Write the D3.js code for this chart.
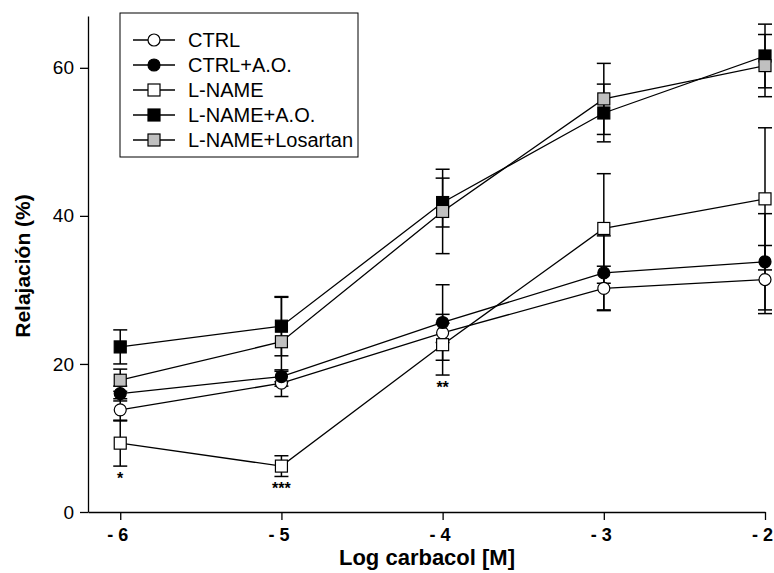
<!DOCTYPE html>
<html>
<head>
<meta charset="utf-8">
<script src="https://cdn.jsdelivr.net/npm/d3@7"></script>
<style>
  body { margin: 0; background: #fff; }
  svg { font-family: "Liberation Sans", Arial, sans-serif; }
</style>
</head>
<body>
<svg id="chart" width="774" height="573"></svg>
<script>
// log concentrations of carbachol
const doses = [-6, -5, -4, -3, -2]
const xTicks = [-6, -5, -4, -3, -2]
const yTicks = [0, 20, 40, 60]

const seriesNames = ['CTRL', 'CTRL+A.O.', 'L-NAME', 'L-NAME+A.O.', 'L-NAME+Losartan']

// mean relaxation (%) and error per series
const ctrl      = [13.8, 17.4, 24.2, 30.2, 31.4]
const ctrlErr   = [1.5, 1.8, 1.3, 3.0, 4.6]
const ctrlAO    = [16.0, 18.3, 25.6, 32.3, 33.8]
const ctrlAOErr = [1.0, 0.7, 5.1, 5.0, 6.5]
const lname     = [9.3, 6.2, 22.6, 38.3, 42.3]
const lnameErr  = [3.1, 1.4, 4.1, 7.4, 9.6]
const lnameAO   = [22.3, 25.1, 41.8, 53.9, 61.6]
const lnameAOErr = [2.3, 4.0, 3.3, 3.9, 4.3]
const lnameLos  = [17.8, 23.0, 40.6, 55.8, 60.3]
const lnameLosErr = [1.5, 6.0, 5.7, 4.8, 4.2]

// significance marks under L-NAME
const sigMarks = ['*', '***', '**', '', '']

const svg = d3.select('#chart')

const x = d3.scaleLinear().domain([-6.2, -2]).range([88, 765])
const y = d3.scaleLinear().domain([0, 67]).range([512, 16])

const series = [
	{name: seriesNames[0], vals: ctrl, err: ctrlErr, shape: 'circle', fill: '#fff'},
	{name: seriesNames[1], vals: ctrlAO, err: ctrlAOErr, shape: 'circle', fill: '#000'},
	{name: seriesNames[2], vals: lname, err: lnameErr, shape: 'square', fill: '#fff'},
	{name: seriesNames[3], vals: lnameAO, err: lnameAOErr, shape: 'square', fill: '#000'},
	{name: seriesNames[4], vals: lnameLos, err: lnameLosErr, shape: 'square', fill: '#c0c0c0'}
]

// axes
const yAxis = svg.append('g')
	.attr('transform', 'translate(88,0)')
	.call(d3.axisLeft(y).tickValues(yTicks).tickSize(8).tickSizeOuter(0).tickPadding(6))
yAxis.selectAll('text').style('font-size', '19px').attr('fill', '#000')
yAxis.selectAll('line, path').attr('stroke', '#000').attr('stroke-width', 1.3)

const xAxis = svg.append('g')
	.attr('transform', 'translate(0,512)')
	.call(d3.axisBottom(x).tickValues(xTicks).tickSize(8).tickSizeOuter(0).tickPadding(8)
		.tickFormat(d => '- ' + Math.abs(d)))
xAxis.selectAll('text').style('font-size', '18px').style('font-weight', 'bold')
	.attr('fill', '#000').attr('dx', -3)
xAxis.selectAll('line, path').attr('stroke', '#000').attr('stroke-width', 1.3)

svg.append('text')
	.attr('transform', 'translate(30,266) rotate(-90)')
	.attr('text-anchor', 'middle')
	.style('font-size', '21px').style('font-weight', 'bold')
	.text('Relajación (%)')

svg.append('text')
	.attr('x', 427).attr('y', 565)
	.attr('text-anchor', 'middle')
	.style('font-size', '22px').style('font-weight', 'bold')
	.text('Log carbacol [M]')

const line = d3.line()
	.x((d, i) => x(doses[i]))
	.y(d => y(d))

const capW = 7

series.forEach(s => {
	const g = svg.append('g')
	// error bars
	s.vals.forEach((v, i) => {
		const cx = x(doses[i])
		const top = y(v + s.err[i]), bot = y(v - s.err[i])
		g.append('line').attr('x1', cx).attr('x2', cx).attr('y1', top).attr('y2', bot)
			.attr('stroke', '#000').attr('stroke-width', 1.5)
		g.append('line').attr('x1', cx - capW).attr('x2', cx + capW).attr('y1', top).attr('y2', top)
			.attr('stroke', '#000').attr('stroke-width', 1.5)
		g.append('line').attr('x1', cx - capW).attr('x2', cx + capW).attr('y1', bot).attr('y2', bot)
			.attr('stroke', '#000').attr('stroke-width', 1.5)
	})
	g.append('path').datum(s.vals)
		.attr('fill', 'none').attr('stroke', '#000').attr('stroke-width', 1.3)
		.attr('d', line)
})

// markers on top
function drawMarker(g, shape, fill, cx, cy) {
	if (shape === 'circle') {
		g.append('circle').attr('cx', cx).attr('cy', cy).attr('r', 6)
			.attr('fill', fill).attr('stroke', '#000').attr('stroke-width', 1.2)
	} else {
		g.append('rect').attr('x', cx - 6).attr('y', cy - 6).attr('width', 12).attr('height', 12)
			.attr('fill', fill).attr('stroke', '#000').attr('stroke-width', 1.2)
	}
}

series.forEach(s => {
	const g = svg.append('g')
	s.vals.forEach((v, i) => drawMarker(g, s.shape, s.fill, x(doses[i]), y(v)))
})

// asterisks under L-NAME
svg.append('g').selectAll('text')
	.data(sigMarks)
	.join('text')
		.attr('x', (d, i) => x(doses[i]))
		.attr('y', (d, i) => y(lname[i] - lnameErr[i]) + 18)
		.attr('text-anchor', 'middle')
		.style('font-size', '16px').style('font-weight', 'bold')
		.text(d => d)

// legend
const legend = svg.append('g')
legend.append('rect')
	.attr('x', 120).attr('y', 13).attr('width', 238).attr('height', 144)
	.attr('fill', '#fff').attr('stroke', '#000').attr('stroke-width', 1)

series.forEach((s, i) => {
	const ly = 40 + i * 25
	legend.append('line').attr('x1', 133).attr('x2', 175).attr('y1', ly).attr('y2', ly)
		.attr('stroke', '#000').attr('stroke-width', 1.3)
	drawMarker(legend, s.shape, s.fill, 154, ly)
	legend.append('text').attr('x', 188).attr('y', ly + 7)
		.style('font-size', '20px')
		.text(s.name)
})
</script>
</body>
</html>
